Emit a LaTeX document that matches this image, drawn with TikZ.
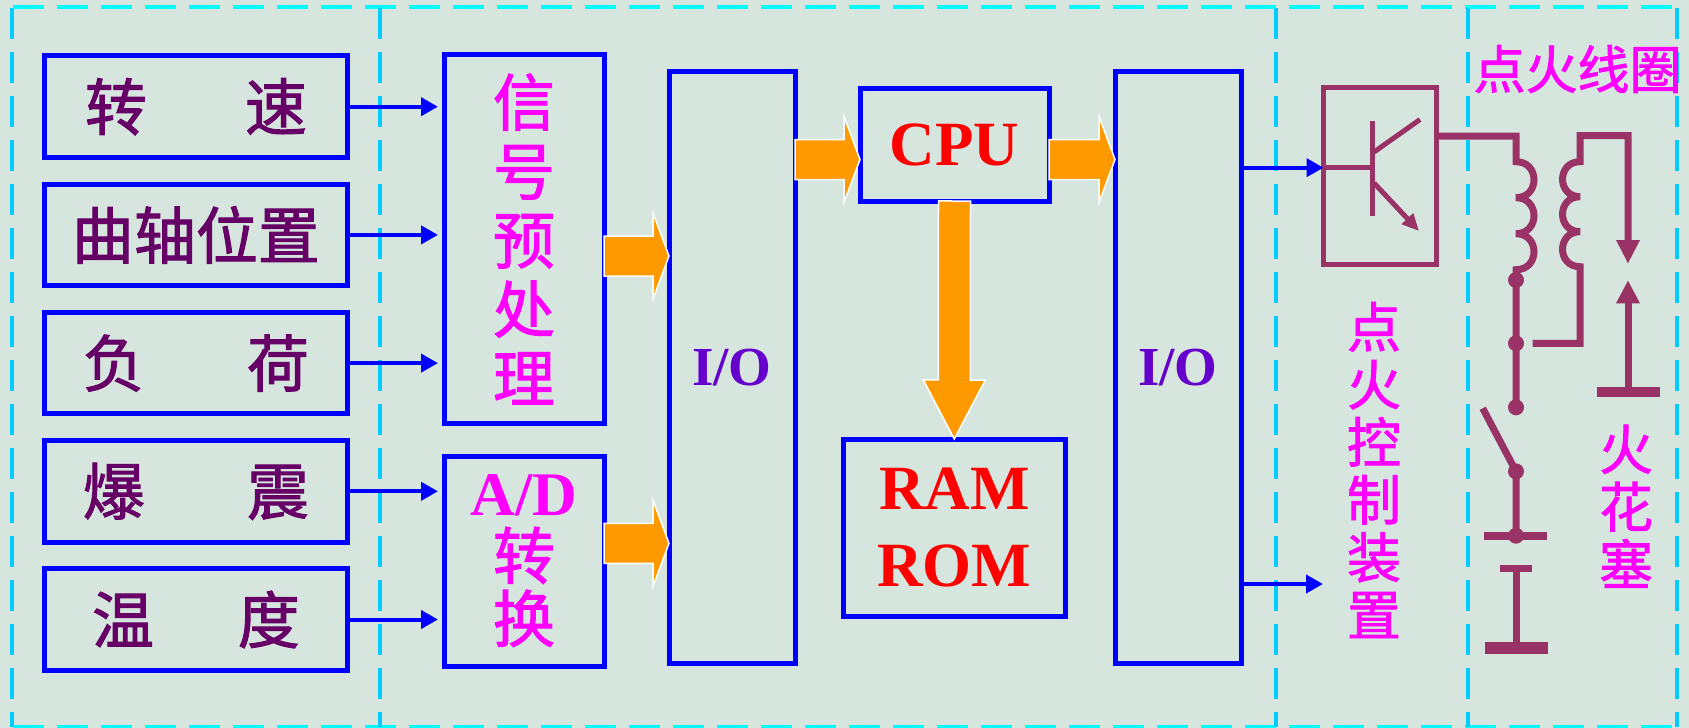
\documentclass[tikz,border=0pt]{standalone}
\usepackage{fontspec}
\setmainfont{Noto Sans CJK SC}[FakeBold=1.6]
\newfontfamily\tnr{Liberation Serif}
\usetikzlibrary{positioning,calc,arrows.meta}

\definecolor{bgcol}{RGB}{214,230,222}
\definecolor{boxblue}{RGB}{0,0,255}
\definecolor{coilred}{RGB}{153,51,102}
\definecolor{fatorange}{RGB}{255,153,0}
\definecolor{dashcyan}{RGB}{0,204,255}
\definecolor{dashaqua}{RGB}{0,255,255}
\definecolor{sensortext}{RGB}{102,0,102}
\definecolor{iotext}{RGB}{102,0,204}
\definecolor{pinktext}{RGB}{255,0,255}
\definecolor{chiptext}{RGB}{255,0,0}

% fat block arrow: tail, tip, body half width, head half width, head length
\newcommand{\fatarrow}[5]{%
  \coordinate (fa-tail) at (#1);
  \coordinate (fa-tip) at (#2);
  \coordinate (fa-head) at ($(fa-tip)!#5!(fa-tail)$);
  \path[fat] ($(fa-tail)!#3!90:(fa-tip)$) -- ($(fa-head)!#3!90:(fa-tip)$)
    -- ($(fa-head)!#4!90:(fa-tip)$) -- (fa-tip) -- ($(fa-head)!#4!-90:(fa-tip)$)
    -- ($(fa-head)!#3!-90:(fa-tip)$) -- ($(fa-tail)!#3!-90:(fa-tip)$) -- cycle;}

\begin{document}
\begin{tikzpicture}[x=1pt, y=-1pt,
    block/.style={draw=boxblue, line width=5pt, inner sep=0pt, outer sep=0pt, align=center},
    sensor/.style={block, minimum width=303.3pt, minimum height=101.7pt, text=sensortext, font=\fontsize{62}{62}\selectfont},
    stage/.style={block, minimum width=160pt, text=pinktext, font=\fontsize{62}{69}\selectfont},
    port/.style={block, minimum width=126pt, minimum height=591.8pt, text=iotext, font=\fontsize{55}{55}\selectfont\tnr\bfseries},
    chip/.style={block, text=chiptext, font=\fontsize{63}{76.6}\selectfont\tnr\bfseries},
    heading/.style={inner sep=0pt, text=pinktext, align=center, font=\fontsize{54}{57.6}\selectfont},
    sig/.style={draw=boxblue, line width=4pt, -{Triangle[length=17pt,width=18pt]}},
    fat/.style={fill=fatorange, draw=white, line width=1.5pt},
    wire/.style={draw=coilred, line width=7pt},
    thinwire/.style={draw=coilred, line width=5pt},
    frameh/.style={draw=dashaqua, line width=3.7pt, dash pattern=on 31pt off 13pt},
    framev/.style={draw=dashcyan, line width=3.7pt, dash pattern=on 31pt off 13pt},
    every node/.style={node distance=26.5pt}
    ]
    \path[fill=bgcol, use as bounding box] (0,0) rectangle (1689,728);

    % dashed frame
    \draw[frameh] (13,7.3) -- (1677,7.3);
    \draw[frameh] (13,726.7) -- (1677,726.7);
    \foreach \x in {12,380,1275.7,1467.7,1677} {
        \draw[framev] (\x,8.3) -- (\x,727);
    }

    % processing blocks
    \node[stage, minimum height=369pt] (pre) at (524,239) {信\\号\\预\\处\\理};
    \node[stage, minimum height=210pt, font=\fontsize{62}{63}\selectfont] (ad) at (524,561) {{\tnr\bfseries A/D}\\转\\换};
    \node[port] (io1) at (732,367.6) {I/O};
    \node[port] (io2) at (1178,367.6) {I/O};
    \node[chip, minimum width=189pt, minimum height=113pt] (cpu) at (954.5,144.5) {CPU};
    \node[chip, minimum width=221.5pt, minimum height=177.5pt] (mem) at (954.25,527.75) {RAM\\ROM};

    % sensors
    \foreach \a/\b/\gap/\dest [count=\i, remember=\i as \prev (initially 0)] in
        {转/速/1.58/pre, 曲轴/位置/0/pre, 负/荷/1.65/pre, 爆/震/1.65/ad, 温/度/1.35/ad} {
        \ifnum \i = 1
        \node[sensor] (s\i) at (195.9,106.7) {\a\hspace{\gap em}\b};
        \else
        \node[sensor, below=of s\prev] (s\i) {\a\hspace{\gap em}\b};
        \fi
        % signal into the next stage
        \draw[sig, shorten >=6pt] (s\i.east) -- (s\i.east -| \dest.west);
    }

    % data flow
    \coordinate (fa1) at ($(pre.east)+(0,17)$);
    \coordinate (fa2) at ($(ad.east)+(0,-17.7)$);
    \coordinate (fa3) at ($(cpu.west)+(0,15)$);
    \coordinate (fa4) at ($(cpu.east)+(0,15)$);
    \fatarrow{fa1}{io1.west |- fa1}{20pt}{43pt}{16pt}
    \fatarrow{fa2}{io1.west |- fa2}{20pt}{43pt}{16pt}
    \fatarrow{io1.east |- fa3}{fa3}{20pt}{43pt}{16pt}
    \fatarrow{fa4}{io2.west |- fa4}{20pt}{43pt}{16pt}
    \fatarrow{cpu.south}{mem.north}{16pt}{31pt}{59pt}

    % ignition control
    \node[draw=coilred, line width=5pt, minimum width=112.5pt, minimum height=176.7pt, inner sep=0pt, outer sep=0pt] (tr) at (1379.75,175.7) {};
    \coordinate (trbase) at (1372,167.7);
    \coordinate (ign) at (1323,584);
    \draw[sig] (io2.east |- trbase) -- (tr.west |- trbase);
    \draw[sig] (io2.east |- ign) -- (ign);
    \draw[thinwire] (tr.west |- trbase) -- (trbase);
    \draw[thinwire] (1372,121) -- (1372,215.7);
    \draw[thinwire] (1374,152) -- (1420,119.5);
    \draw[thinwire, -{Triangle[length=17pt,width=15pt]}] (1374,183) -- (1419,231);

    % coil, switch and battery
    \coordinate (ptop) at (1516,136);
    \draw[wire] (tr.east |- ptop) -- (ptop) -- ++(0,25.7)
        .. controls +(24,0) and +(24,0) .. ++(0,36)
        .. controls +(24,0) and +(24,0) .. ++(0,36)
        .. controls +(24,0) and +(24,0) .. ++(0,36)
        -- (1516,407.3);
    \draw[wire] (1532.7,343.3) -- (1580,343.3) -- (1580,266.7)
        .. controls +(-23.3,0) and +(-23.3,0) .. ++(0,-35)
        .. controls +(-23.3,0) and +(-23.3,0) .. ++(0,-35)
        .. controls +(-23.3,0) and +(-23.3,0) .. ++(0,-35)
        -- (1580,135.7) -- (1628,135.7) -- (1628,240);
    \foreach \y in {280,343.3,407.3,471.4,535.7} {
        \fill[coilred] (1516,\y) circle (8pt);
    }
    \draw[wire] (1482.7,408.3) -- (1516,471.4) -- (1516,535.7);
    \draw[coilred, line width=7.6pt] (1484,535.7) -- (1547.3,535.7);
    \draw[wire] (1500,568.5) -- (1531.7,568.5);
    \draw[wire] (1516,568.5) -- (1516,642);
    \fill[coilred] (1485,642) rectangle (1548,654);

    % spark plug
    \fill[coilred] (1616,240) -- (1640,240) -- (1628,263.3) -- cycle;
    \fill[coilred] (1616,303.3) -- (1640,303.3) -- (1628,280.7) -- cycle;
    \draw[wire] (1628,303.3) -- (1628,391.7);
    \fill[coilred] (1596.7,386.7) rectangle (1660,397.3);

    % headings
    \node[heading, font=\fontsize{52}{52}\selectfont] (coilname) at (1577.5,69) {点火线圈};
    \node[heading] (ctrlname) at (1374,470) {点\\火\\控\\制\\装\\置};
    \node[heading] (plugname) at (1626,506.25) {火\\花\\塞};
\end{tikzpicture}
\end{document}
